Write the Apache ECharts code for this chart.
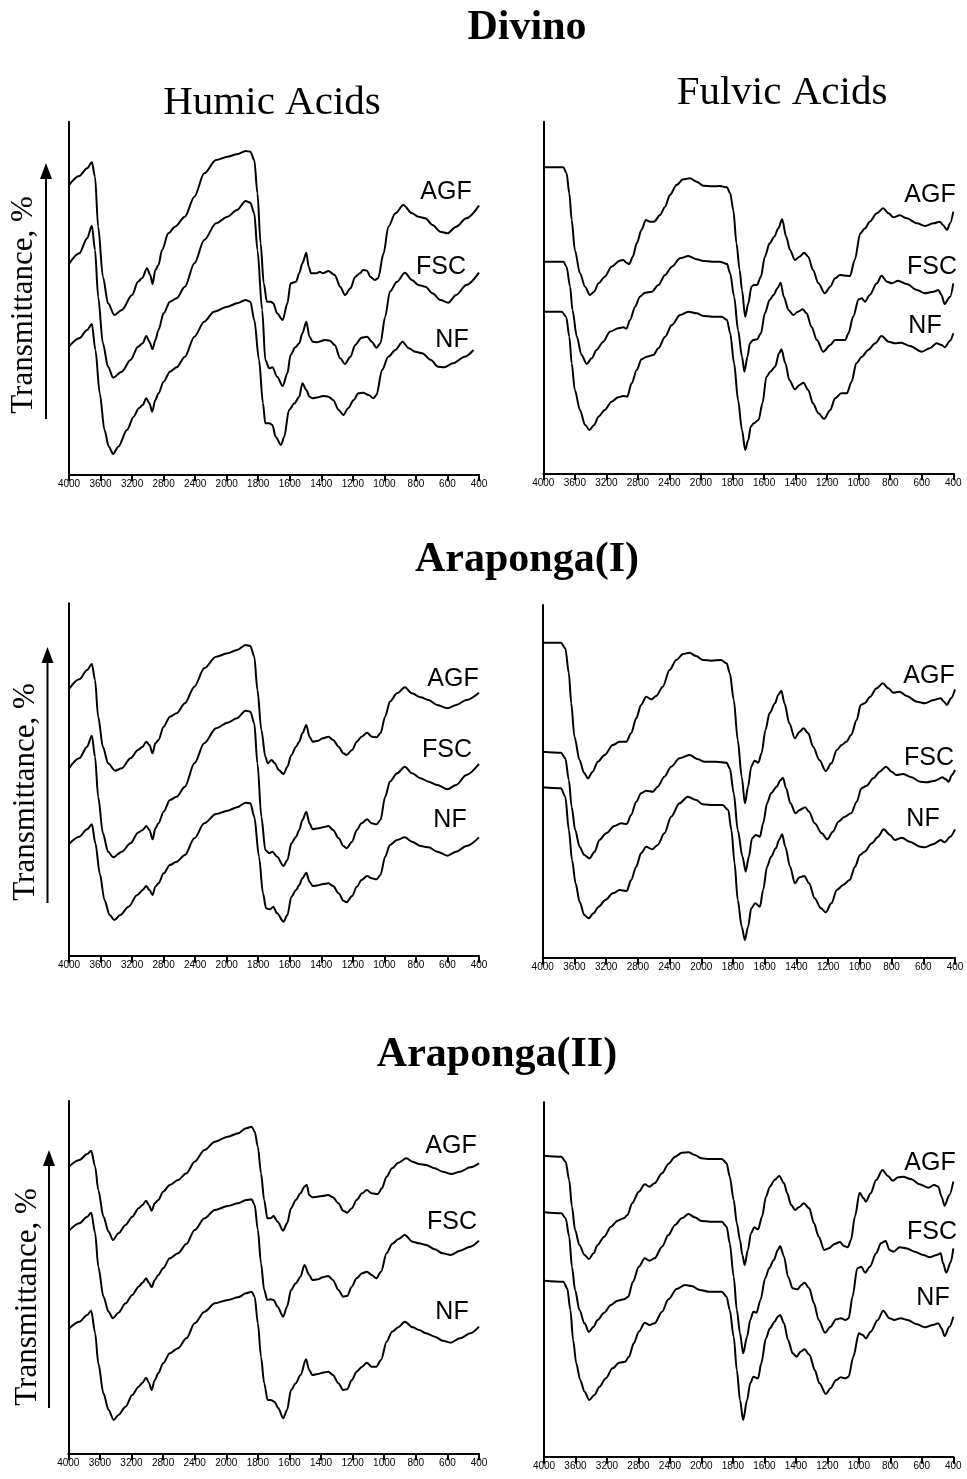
<!DOCTYPE html>
<html><head><meta charset="utf-8">
<script src="https://cdn.jsdelivr.net/npm/echarts@6/dist/echarts.min.js"></script>
<style>html,body{margin:0;padding:0;background:#fff}#c{width:967px;height:1479px}</style>
</head><body><div id="c"></div>
<script>
// ---- tick labels (wavenumber, cm-1) ----
const tickLabels = ['4000','3600','3200','2800','2400','2000','1800','1600','1400','1200','1000','800','600','400'];
const sampleNames = ['AGF','FSC','NF'];
const siteTitles = ['Divino','Araponga(I)','Araponga(II)'];
const columnTitles = ['Humic Acids','Fulvic Acids'];
const yTitle = 'Transmittance, %';

// ---- spectra: [wavenumber, transmittance (arbitrary units)] ----
const divinoHumicAGF = [[4000,86.8],[3870,89.5],[3770,91.8],[3710,93.6],[3670,89.3],[3630,74.3],[3570,59.3],[3505,51.3],[3425,47.8],[3330,49.3],[3200,53.8],[3125,57.8],[3075,58.8],[3010,61.8],[2970,59.8],[2940,57.1],[2905,61.3],[2865,62.8],[2820,67.3],[2740,72.3],[2655,74.3],[2530,77.3],[2410,83.3],[2285,90.3],[2135,94.3],[1995,95.3],[1935,96.0],[1880,97.0],[1850,96.8],[1825,94.3],[1805,84.3],[1785,69.3],[1765,57.3],[1745,51.8],[1720,51.8],[1705,51.3],[1680,48.3],[1645,46.3],[1615,51.3],[1595,57.3],[1560,57.8],[1540,60.3],[1520,63.3],[1495,66.5],[1480,62.3],[1465,60.3],[1430,60.3],[1410,60.8],[1390,60.3],[1355,61.0],[1315,59.8],[1280,56.3],[1250,53.8],[1215,55.8],[1185,59.3],[1155,60.3],[1135,61.3],[1110,61.1],[1090,59.3],[1060,58.3],[1040,58.8],[1005,66.3],[975,74.3],[930,78.3],[880,80.8],[825,78.3],[785,77.3],[740,76.8],[695,74.8],[645,72.8],[600,72.3],[545,74.3],[480,76.8],[400,80.6]];
const divinoHumicFSC = [[4000,63.1],[3870,66.3],[3770,70.8],[3710,74.6],[3670,67.3],[3630,53.3],[3570,39.3],[3505,32.3],[3440,29.0],[3330,30.8],[3220,34.3],[3125,38.3],[3065,39.3],[3020,41.5],[2980,39.8],[2940,37.5],[2905,40.3],[2865,43.3],[2800,48.3],[2720,51.8],[2635,52.8],[2530,56.3],[2410,63.3],[2285,70.3],[2135,75.3],[1995,77.3],[1935,79.3],[1880,82.0],[1850,81.5],[1825,78.3],[1805,67.3],[1775,49.3],[1755,34.3],[1730,31.8],[1710,32.1],[1680,29.3],[1645,26.5],[1615,30.3],[1595,35.8],[1565,38.1],[1540,39.3],[1520,42.3],[1495,45.8],[1475,41.3],[1455,39.8],[1425,39.6],[1400,40.0],[1380,40.3],[1345,40.1],[1315,38.8],[1280,34.8],[1250,33.1],[1215,35.3],[1185,38.8],[1145,41.0],[1110,41.3],[1080,39.8],[1050,38.0],[1025,39.3],[995,47.3],[965,54.8],[920,57.8],[870,60.5],[825,58.3],[785,56.8],[740,56.3],[695,54.3],[645,52.3],[595,51.5],[545,53.8],[480,56.8],[400,60.5]];
const divinoHumicNF = [[4000,38.3],[3870,40.8],[3770,43.3],[3710,45.1],[3665,37.3],[3610,24.3],[3550,13.3],[3495,8.3],[3440,6.1],[3375,8.3],[3265,13.3],[3180,17.3],[3115,19.8],[3065,20.8],[3020,22.8],[2980,21.3],[2945,18.8],[2905,22.3],[2865,24.3],[2800,27.8],[2720,30.8],[2635,32.1],[2530,35.3],[2410,41.3],[2285,45.8],[2160,48.8],[1995,50.3],[1935,51.3],[1880,52.3],[1850,51.8],[1825,46.3],[1795,34.3],[1770,21.3],[1755,15.3],[1730,15.3],[1710,14.8],[1690,11.3],[1655,8.8],[1635,11.3],[1605,19.3],[1570,21.3],[1540,23.3],[1520,27.3],[1495,25.3],[1475,23.3],[1455,22.8],[1420,23.1],[1390,23.5],[1355,23.3],[1325,22.3],[1290,19.3],[1260,17.8],[1230,19.8],[1195,22.3],[1165,24.3],[1135,24.5],[1100,23.8],[1070,22.8],[1050,23.8],[1015,31.3],[975,35.3],[930,37.3],[885,39.8],[845,37.8],[805,36.8],[760,36.3],[705,34.3],[660,32.3],[620,32.1],[565,33.3],[490,35.3],[435,37.3]];

const divinoFulvicAGF = [[4000,91.8],[3745,91.8],[3705,90.0],[3670,84.0],[3640,76.0],[3600,67.0],[3535,60.0],[3470,56.0],[3410,53.5],[3355,54.5],[3300,57.0],[3220,59.0],[3135,62.0],[3030,63.8],[2985,64.0],[2945,63.2],[2910,62.8],[2865,65.0],[2815,69.0],[2755,73.0],[2700,76.0],[2645,75.5],[2595,75.5],[2520,77.5],[2455,80.0],[2395,83.5],[2310,86.5],[2225,88.2],[2140,88.5],[2055,87.5],[1985,86.3],[1930,86.1],[1880,86.2],[1835,85.8],[1815,84.0],[1795,79.0],[1775,69.0],[1755,61.0],[1740,55.0],[1720,47.0],[1700,51.0],[1680,56.0],[1665,56.5],[1645,56.5],[1620,59.0],[1595,65.0],[1565,69.0],[1535,71.0],[1510,73.5],[1485,76.2],[1460,71.0],[1435,67.0],[1405,64.0],[1375,65.0],[1345,66.2],[1320,65.0],[1290,61.0],[1255,57.0],[1215,54.0],[1180,56.0],[1150,58.5],[1120,59.5],[1085,59.3],[1055,59.2],[1025,64.0],[990,72.0],[960,73.5],[930,75.5],[885,78.0],[845,79.5],[810,78.0],[780,76.8],[740,77.4],[695,76.5],[630,75.0],[580,74.2],[525,75.0],[485,75.5],[465,74.5],[440,73.0],[420,75.0],[400,78.5]];
const divinoFulvicFSC = [[4000,63.5],[3745,63.5],[3705,62.0],[3660,56.0],[3630,49.0],[3575,41.0],[3515,35.5],[3450,32.8],[3385,34.5],[3325,37.0],[3240,39.5],[3155,42.5],[3050,43.5],[2985,43.8],[2945,43.4],[2900,46.0],[2835,50.0],[2775,53.0],[2710,54.2],[2625,54.5],[2540,56.5],[2455,59.5],[2370,62.0],[2265,64.5],[2160,65.2],[2055,64.2],[1985,63.7],[1930,63.5],[1880,63.5],[1835,62.8],[1815,60.0],[1790,53.0],[1765,43.0],[1740,35.0],[1725,30.5],[1705,35.0],[1690,39.0],[1670,40.0],[1645,40.2],[1620,42.0],[1595,48.0],[1565,52.0],[1540,53.5],[1515,55.5],[1495,57.2],[1475,53.0],[1445,49.0],[1415,47.5],[1385,48.5],[1355,49.2],[1330,48.0],[1300,44.0],[1265,40.0],[1225,36.5],[1180,38.5],[1150,40.0],[1120,40.0],[1085,40.0],[1065,42.0],[1035,47.0],[1000,52.2],[980,52.5],[960,51.5],[930,53.5],[885,57.0],[855,59.3],[820,57.5],[790,57.0],[750,57.8],[695,56.8],[630,55.0],[580,54.0],[525,54.5],[495,55.0],[475,53.5],[455,50.8],[420,53.0],[400,57.0]];
const divinoFulvicNF = [[4000,48.5],[3765,48.5],[3710,47.0],[3670,41.0],[3640,33.0],[3600,25.0],[3535,19.0],[3470,14.5],[3415,13.0],[3355,14.5],[3300,17.0],[3220,19.0],[3135,21.5],[3050,22.8],[2985,23.2],[2935,23.0],[2880,27.0],[2815,31.0],[2755,34.2],[2690,35.0],[2605,35.5],[2540,37.5],[2455,41.0],[2370,44.5],[2265,47.5],[2160,48.5],[2055,48.0],[1985,47.2],[1930,47.0],[1870,47.0],[1835,46.0],[1815,42.0],[1790,33.0],[1765,22.0],[1740,13.0],[1720,7.0],[1700,10.0],[1685,14.0],[1665,15.0],[1635,16.0],[1610,21.0],[1585,29.0],[1560,30.5],[1530,32.0],[1505,36.0],[1490,37.2],[1465,33.0],[1440,28.0],[1405,25.2],[1375,26.5],[1350,27.2],[1320,25.0],[1290,21.0],[1255,18.0],[1220,16.3],[1180,19.0],[1150,22.5],[1110,24.0],[1075,24.0],[1045,27.5],[1015,33.0],[980,35.0],[940,37.0],[895,39.0],[855,41.2],[810,39.5],[770,39.0],[730,39.2],[675,38.2],[600,36.5],[550,37.5],[505,39.0],[475,38.5],[455,37.8],[420,39.8],[400,42.0]];

const arapI_HumicAGF = [[4000,80.0],[3870,82.9],[3770,85.7],[3710,87.5],[3670,82.7],[3630,71.7],[3570,62.7],[3505,57.7],[3415,55.5],[3330,56.2],[3220,59.2],[3125,61.7],[3065,62.7],[3020,64.2],[2980,63.2],[2940,60.7],[2905,63.7],[2865,64.7],[2800,68.7],[2720,71.7],[2635,72.7],[2530,75.7],[2410,80.7],[2285,86.2],[2135,89.7],[1995,90.7],[1935,91.7],[1880,93.2],[1850,92.9],[1825,89.7],[1805,79.7],[1780,67.7],[1755,59.7],[1740,57.7],[1715,58.7],[1695,57.7],[1670,55.7],[1640,54.5],[1615,56.7],[1590,60.2],[1560,62.7],[1540,64.2],[1520,66.7],[1495,69.2],[1475,65.7],[1455,64.2],[1420,64.5],[1390,65.2],[1355,65.7],[1325,64.7],[1290,62.7],[1260,60.7],[1240,60.2],[1205,61.7],[1175,64.2],[1145,65.7],[1110,66.9],[1080,65.7],[1050,65.5],[1025,66.7],[995,71.7],[965,76.2],[920,78.7],[870,80.5],[825,78.7],[770,77.5],[720,76.7],[665,75.2],[600,74.2],[545,75.2],[480,76.7],[400,78.9]];
const arapI_HumicFSC = [[4000,56.2],[3870,59.2],[3770,62.7],[3710,66.0],[3670,59.7],[3630,47.7],[3570,36.7],[3505,31.2],[3440,29.5],[3330,31.2],[3220,33.7],[3125,36.9],[3065,37.7],[3020,38.9],[2980,37.7],[2940,34.9],[2905,38.2],[2865,39.7],[2800,43.2],[2720,46.7],[2635,47.7],[2530,50.7],[2410,57.7],[2285,63.7],[2135,68.2],[1995,69.9],[1935,71.2],[1880,73.5],[1850,73.2],[1825,69.7],[1805,57.7],[1780,41.7],[1755,31.7],[1730,30.7],[1710,31.2],[1680,29.7],[1640,26.9],[1615,28.7],[1590,33.7],[1560,35.7],[1540,37.7],[1520,40.7],[1495,43.2],[1475,39.7],[1455,37.9],[1420,38.2],[1390,38.5],[1355,38.9],[1325,37.7],[1290,35.2],[1260,32.9],[1240,32.2],[1205,34.2],[1175,37.7],[1145,39.7],[1110,40.9],[1080,39.7],[1050,39.4],[1025,40.7],[995,47.7],[965,52.2],[920,54.7],[870,56.7],[825,54.7],[770,53.2],[720,52.2],[665,51.2],[600,49.9],[545,51.2],[480,54.2],[400,57.5]];
const arapI_HumicNF = [[4000,33.5],[3870,35.7],[3770,37.9],[3710,39.4],[3665,33.7],[3610,24.7],[3550,16.7],[3485,12.2],[3425,10.7],[3350,12.2],[3245,14.7],[3135,18.2],[3065,19.7],[3020,20.9],[2980,19.7],[2940,18.2],[2905,20.7],[2865,21.7],[2800,24.7],[2720,27.2],[2635,28.2],[2530,30.2],[2410,35.2],[2285,39.7],[2135,42.5],[1995,43.5],[1935,44.5],[1880,45.9],[1850,45.7],[1825,41.7],[1795,29.7],[1770,18.7],[1750,14.2],[1725,13.9],[1705,14.7],[1680,12.7],[1640,10.2],[1615,12.2],[1590,17.7],[1560,19.7],[1540,21.2],[1520,23.2],[1495,24.9],[1475,22.2],[1455,20.9],[1420,21.1],[1390,21.5],[1355,21.7],[1325,20.9],[1290,18.7],[1260,16.5],[1240,16.0],[1205,17.9],[1175,20.7],[1145,22.7],[1110,23.9],[1080,23.2],[1050,22.9],[1025,24.2],[995,29.7],[965,33.2],[920,34.7],[870,35.5],[825,34.2],[770,32.9],[720,32.5],[665,31.2],[600,30.0],[545,31.2],[480,32.9],[400,35.5]];

const arapI_FulvicAGF = [[4000,94.5],[3770,94.5],[3715,92.8],[3670,85.3],[3640,76.3],[3600,66.3],[3535,59.3],[3480,55.5],[3430,53.8],[3370,55.8],[3305,58.8],[3220,60.8],[3115,63.8],[3030,64.8],[2945,64.8],[2885,67.3],[2820,71.8],[2760,75.8],[2695,78.3],[2630,77.5],[2570,78.5],[2485,81.3],[2400,86.3],[2315,89.3],[2230,91.1],[2150,91.5],[2065,90.5],[1990,89.3],[1935,89.1],[1875,89.3],[1840,88.3],[1820,85.3],[1795,77.3],[1770,65.3],[1745,54.3],[1725,46.3],[1705,51.3],[1685,57.3],[1665,59.1],[1640,58.5],[1620,61.3],[1595,68.3],[1570,73.3],[1535,76.3],[1515,78.8],[1495,80.1],[1475,76.3],[1445,70.3],[1410,65.8],[1380,67.8],[1355,68.8],[1325,67.3],[1295,63.3],[1255,59.3],[1215,56.0],[1180,58.3],[1145,62.3],[1115,63.8],[1085,64.8],[1055,66.8],[1020,71.3],[995,75.8],[970,76.3],[935,78.3],[895,80.8],[855,82.3],[820,80.8],[790,79.5],[750,79.8],[705,78.5],[640,76.8],[590,76.3],[535,77.3],[490,77.8],[470,76.8],[452,75.8],[425,77.8],[400,80.5]];
const arapI_FulvicFSC = [[4000,61.8],[3770,61.5],[3715,59.8],[3670,53.3],[3635,45.3],[3590,38.3],[3535,33.3],[3475,30.8],[3410,29.8],[3345,31.8],[3285,35.3],[3200,37.3],[3095,39.5],[3010,40.3],[2940,40.1],[2885,42.8],[2820,46.8],[2760,49.3],[2695,50.1],[2610,49.8],[2550,51.3],[2465,54.3],[2380,57.3],[2275,59.8],[2150,60.8],[2040,59.5],[1980,58.8],[1905,58.8],[1840,58.5],[1820,56.8],[1795,49.3],[1770,38.3],[1740,30.3],[1720,25.8],[1700,30.3],[1680,35.8],[1655,36.8],[1630,36.3],[1610,40.3],[1585,46.3],[1560,49.3],[1525,51.3],[1500,53.3],[1485,54.0],[1465,50.8],[1438,46.3],[1405,43.3],[1380,44.3],[1345,45.1],[1320,43.8],[1285,40.3],[1240,37.3],[1205,35.5],[1170,37.8],[1135,40.8],[1095,42.3],[1055,43.3],[1020,46.8],[990,50.8],[960,51.5],[915,53.8],[875,55.8],[835,57.3],[800,55.8],[770,54.8],[725,55.1],[675,54.1],[620,52.8],[580,52.6],[525,53.1],[480,54.1],[457,53.5],[440,52.8],[420,54.8],[400,56.3]];
const arapI_FulvicNF = [[4000,51.1],[3770,50.8],[3715,48.3],[3670,38.3],[3630,29.3],[3585,22.3],[3535,16.8],[3475,12.8],[3420,11.8],[3360,13.3],[3295,15.3],[3210,17.3],[3115,19.3],[3030,20.3],[2940,20.0],[2885,23.3],[2820,27.3],[2760,31.3],[2695,33.3],[2620,32.5],[2550,33.8],[2465,37.3],[2380,42.3],[2275,46.3],[2170,48.3],[2065,47.3],[1990,46.0],[1925,45.8],[1865,45.8],[1830,44.3],[1810,38.3],[1790,28.3],[1770,17.3],[1745,9.3],[1725,5.3],[1705,9.3],[1685,14.8],[1660,16.3],[1630,15.3],[1610,20.3],[1585,27.3],[1560,30.3],[1530,32.8],[1510,35.3],[1490,37.0],[1470,33.3],[1440,27.3],[1410,22.3],[1380,24.1],[1350,24.5],[1320,22.3],[1285,17.8],[1245,14.8],[1215,13.6],[1180,16.3],[1145,20.3],[1105,21.8],[1065,23.3],[1030,27.3],[1000,30.8],[970,31.8],[925,34.3],[885,36.3],[850,38.5],[810,36.8],[780,35.3],[735,36.0],[685,34.8],[620,33.3],[590,33.1],[535,34.1],[490,35.3],[465,34.6],[430,36.3],[400,38.5]];

const arapII_HumicAGF = [[4000,85.8],[3860,88.0],[3760,89.8],[3710,90.8],[3660,86.0],[3620,79.0],[3555,71.0],[3490,66.5],[3435,64.0],[3365,66.0],[3275,68.5],[3190,71.0],[3110,73.5],[3060,74.5],[3015,75.8],[2980,74.5],[2945,72.8],[2905,75.0],[2860,76.0],[2800,78.5],[2715,80.5],[2610,82.0],[2505,84.0],[2400,87.5],[2275,91.0],[2145,93.5],[1990,95.0],[1925,96.0],[1875,97.5],[1840,98.0],[1820,96.5],[1800,92.0],[1780,84.0],[1760,76.0],[1740,70.5],[1720,70.5],[1700,71.2],[1675,69.5],[1640,66.8],[1615,69.0],[1590,73.5],[1560,76.0],[1530,78.0],[1505,80.0],[1490,80.5],[1475,77.5],[1455,76.8],[1420,77.0],[1390,77.2],[1355,77.5],[1325,76.8],[1290,75.0],[1260,72.8],[1235,72.2],[1205,73.5],[1175,76.0],[1140,78.0],[1110,79.0],[1080,78.0],[1040,77.8],[1015,79.5],[985,83.0],[950,85.5],[910,87.2],[860,88.5],[820,87.5],[780,86.8],[735,86.5],[680,85.5],[630,84.5],[575,83.8],[520,84.5],[455,85.8],[400,87.0]];
const arapII_HumicFSC = [[4000,66.5],[3860,69.0],[3760,71.0],[3710,72.2],[3660,66.0],[3620,56.0],[3555,47.0],[3490,42.5],[3435,40.5],[3365,42.2],[3275,45.0],[3190,47.5],[3110,50.0],[3060,51.2],[3015,52.5],[2980,51.2],[2945,49.8],[2905,52.0],[2860,53.5],[2800,55.5],[2715,58.5],[2610,60.0],[2505,62.8],[2400,67.0],[2275,70.5],[2145,73.0],[1990,74.2],[1925,75.0],[1875,76.0],[1840,76.2],[1820,74.5],[1800,67.0],[1780,57.0],[1760,49.0],[1740,46.0],[1720,46.2],[1700,46.0],[1675,44.0],[1640,41.0],[1615,44.0],[1590,49.0],[1560,51.0],[1530,53.0],[1505,56.5],[1475,53.5],[1455,52.0],[1420,52.2],[1390,52.8],[1355,53.2],[1325,52.0],[1290,49.0],[1260,47.0],[1235,47.2],[1205,50.0],[1175,52.5],[1140,54.0],[1110,54.5],[1080,53.5],[1050,52.5],[1020,54.5],[985,60.0],[950,62.8],[910,64.3],[870,65.5],[820,63.5],[780,63.0],[735,62.5],[680,61.2],[630,60.0],[580,59.5],[520,60.8],[455,62.0],[400,63.8]];
const arapII_HumicNF = [[4000,37.2],[3860,39.5],[3760,41.5],[3710,42.8],[3660,36.0],[3620,27.0],[3555,18.0],[3490,13.0],[3425,10.0],[3365,11.5],[3275,14.0],[3190,17.5],[3110,20.0],[3060,21.2],[3015,22.7],[2980,21.2],[2945,19.0],[2905,22.0],[2860,24.0],[2800,27.0],[2715,30.0],[2610,31.5],[2505,34.5],[2400,39.0],[2275,42.5],[2145,45.0],[1990,46.0],[1925,46.8],[1875,48.0],[1840,48.5],[1820,47.0],[1800,39.0],[1780,29.0],[1760,21.0],[1738,16.0],[1718,16.0],[1695,15.5],[1670,13.5],[1640,10.5],[1615,13.0],[1590,19.0],[1560,21.0],[1530,23.5],[1495,28.2],[1475,25.0],[1455,23.5],[1420,23.8],[1390,24.2],[1355,24.5],[1325,23.5],[1290,21.0],[1260,19.0],[1235,19.2],[1205,22.0],[1175,24.5],[1140,26.0],[1110,27.2],[1080,26.0],[1050,26.0],[1020,28.0],[985,33.5],[950,36.5],[910,37.8],[870,39.5],[820,37.8],[780,37.0],[735,36.0],[680,35.0],[630,33.8],[580,33.2],[520,34.5],[455,36.0],[400,38.0]];

const arapII_FulvicAGF = [[4000,90.3],[3780,90.0],[3725,88.5],[3680,83.0],[3645,75.0],[3605,68.0],[3550,63.5],[3485,60.5],[3430,59.3],[3370,61.0],[3320,63.5],[3235,66.0],[3150,69.0],[3065,70.8],[2985,71.5],[2940,72.5],[2880,76.0],[2795,79.5],[2720,81.7],[2660,81.0],[2595,82.0],[2500,85.0],[2420,87.8],[2335,90.0],[2250,91.2],[2165,91.3],[2085,90.5],[2000,89.5],[1945,89.3],[1870,89.3],[1840,88.0],[1820,84.0],[1795,77.0],[1775,70.0],[1755,65.0],[1740,60.5],[1725,57.5],[1705,62.0],[1685,67.0],[1665,68.8],[1640,68.2],[1615,72.0],[1590,78.0],[1565,81.0],[1535,83.0],[1505,84.2],[1475,82.0],[1455,79.0],[1430,75.5],[1405,74.0],[1375,75.0],[1350,76.0],[1315,74.5],[1285,70.0],[1255,66.0],[1220,62.0],[1190,62.5],[1155,63.8],[1120,64.4],[1095,63.2],[1070,62.8],[1050,65.0],[1025,72.0],[995,79.2],[970,77.5],[955,76.5],[925,79.0],[890,83.0],[850,86.0],[815,84.2],[785,82.8],[750,83.8],[720,84.0],[665,83.2],[615,81.7],[560,80.7],[520,81.5],[495,81.0],[475,78.0],[455,75.3],[425,78.5],[400,82.5]];
const arapII_FulvicFSC = [[4000,73.3],[3780,73.0],[3725,71.5],[3680,66.0],[3645,57.0],[3605,50.0],[3550,44.0],[3485,40.0],[3430,37.4],[3370,39.0],[3320,41.0],[3235,43.2],[3150,45.5],[3065,46.8],[2985,47.2],[2930,48.0],[2870,52.5],[2795,57.0],[2720,59.5],[2660,58.8],[2595,59.5],[2500,63.0],[2420,66.5],[2335,69.5],[2250,71.5],[2165,72.8],[2085,71.8],[2000,70.7],[1945,70.5],[1870,70.5],[1840,69.0],[1820,64.0],[1795,54.0],[1775,44.0],[1755,37.0],[1735,31.0],[1710,36.0],[1690,41.0],[1670,43.5],[1650,43.2],[1625,47.0],[1595,53.5],[1570,56.5],[1540,59.0],[1515,62.0],[1500,63.2],[1475,60.0],[1450,54.0],[1420,50.5],[1390,50.2],[1365,51.5],[1345,52.2],[1315,50.5],[1285,46.0],[1255,41.0],[1215,37.2],[1180,39.0],[1145,41.2],[1115,41.5],[1085,41.0],[1065,41.5],[1040,48.0],[1010,56.5],[985,57.0],[960,55.2],[930,57.0],[890,61.0],[860,64.0],[830,64.7],[805,62.0],[780,61.5],[740,62.8],[700,62.5],[645,61.5],[590,60.5],[550,59.8],[505,60.5],[480,61.0],[465,58.0],[445,55.2],[415,58.5],[400,62.5]];
const arapII_FulvicNF = [[4000,52.8],[3755,52.5],[3705,50.5],[3665,44.0],[3630,35.0],[3590,28.0],[3540,23.0],[3485,19.5],[3425,17.0],[3360,18.5],[3295,21.0],[3215,23.5],[3130,26.5],[3045,28.2],[2970,28.5],[2920,30.0],[2860,34.0],[2795,37.5],[2720,40.2],[2660,39.5],[2595,40.0],[2500,43.5],[2420,47.2],[2315,50.3],[2210,51.5],[2125,51.2],[2020,50.0],[1955,49.5],[1870,49.5],[1840,48.0],[1820,44.0],[1795,36.0],[1775,26.0],[1755,17.0],[1735,11.0],[1710,17.0],[1690,22.0],[1670,24.0],[1640,23.5],[1620,28.0],[1590,35.5],[1565,38.5],[1535,40.5],[1515,42.0],[1500,42.5],[1475,40.0],[1450,35.0],[1420,31.0],[1395,30.0],[1370,31.5],[1345,32.2],[1313,30.5],[1280,26.0],[1250,22.0],[1210,18.8],[1180,20.5],[1145,23.0],[1115,23.8],[1085,23.5],[1065,24.0],[1035,30.0],[1000,37.0],[975,36.5],[955,35.5],[925,37.5],[880,41.0],[845,43.8],[805,41.5],[775,41.0],[735,41.5],[690,41.0],[635,39.8],[580,38.8],[530,39.5],[495,40.0],[475,38.5],[455,36.2],[425,39.0],[400,42.0]];

// ---- the axis is compressed 2x above 2000 cm-1 (each tick is one step) ----
function toAxis(wn) { return wn >= 2000 ? (4000 - wn) / 400 : 5 + (2000 - wn) / 200; }

const panels = [
  { grid: {left: 69, top: 121.7, width: 410, height: 352.6}, ymax: 105.8, data: [divinoHumicAGF, divinoHumicFSC, divinoHumicNF], lab: [[446,192],[441,267],[452,340]] },
  { grid: {left: 543.3, top: 121.7, width: 410, height: 351.6}, ymax: 105.5, data: [divinoFulvicAGF, divinoFulvicFSC, divinoFulvicNF], lab: [[930,195],[932,267],[925,326]] },
  { grid: {left: 69, top: 603.3, width: 410, height: 352.4}, ymax: 105.7, data: [arapI_HumicAGF, arapI_HumicFSC, arapI_HumicNF], lab: [[453,679],[447,750],[450,820]] },
  { grid: {left: 542.7, top: 605, width: 412.3, height: 352.7}, ymax: 105.8, data: [arapI_FulvicAGF, arapI_FulvicFSC, arapI_FulvicNF], lab: [[929,676],[929,758],[923,819]] },
  { grid: {left: 68.3, top: 1101, width: 410.7, height: 352.3}, ymax: 105.7, data: [arapII_HumicAGF, arapII_HumicFSC, arapII_HumicNF], lab: [[451,1146],[452,1222],[452,1312]] },
  { grid: {left: 544, top: 1102.3, width: 409.3, height: 354.4}, ymax: 106.3, data: [arapII_FulvicAGF, arapII_FulvicFSC, arapII_FulvicNF], lab: [[930,1163],[932,1232],[933,1298]] }
];

const sansFont = '"Liberation Sans", Arial, sans-serif';
const serifFont = '"Liberation Serif", "Times New Roman", serif';

const grids = [], xAxes = [], yAxes = [], series = [], graphics = [];
panels.forEach((p, i) => {
  grids.push(Object.assign({containLabel: false}, p.grid));
  xAxes.push({
    gridIndex: i, type: 'value', min: 0, max: 13, interval: 1,
    axisLine: {show: true, onZero: false, lineStyle: {color: '#000', width: 2}},
    axisTick: {show: true, length: 7, lineStyle: {color: '#000', width: 2}},
    axisLabel: {show: true, color: '#000', fontSize: 10, fontFamily: sansFont, margin: 5,
      formatter: v => tickLabels[Math.round(v)] || ''},
    splitLine: {show: false}
  });
  yAxes.push({
    gridIndex: i, type: 'value', min: 0, max: p.ymax,
    axisLine: {show: true, onZero: false, lineStyle: {color: '#000', width: 2}},
    axisTick: {show: false}, axisLabel: {show: false}, splitLine: {show: false}
  });
  p.data.forEach((arr, k) => {
    series.push({
      type: 'line', xAxisIndex: i, yAxisIndex: i, name: sampleNames[k],
      data: arr.map(d => [toAxis(d[0]), d[1]]),
      smooth: 0.3, smoothMonotone: 'x', showSymbol: false, symbol: 'none', silent: true,
      lineStyle: {color: '#000', width: 2}
    });
    graphics.push({type: 'text', x: p.lab[k][0], y: p.lab[k][1], silent: true,
      style: {text: sampleNames[k], font: '25px ' + sansFont, fill: '#000',
        textAlign: 'center', textVerticalAlign: 'middle', align: 'center', verticalAlign: 'middle'}});
  });
});

// titles
const titlePos = [[527, 28], [527, 560], [497, 1055]];
siteTitles.forEach((t, i) => graphics.push({type: 'text', x: titlePos[i][0], y: titlePos[i][1], silent: true,
  style: {text: t, font: 'bold 42px ' + serifFont, fill: '#000', textAlign: 'center', textVerticalAlign: 'middle', align: 'center', verticalAlign: 'middle'}}));
const colPos = [[272, 103], [782, 93]];
columnTitles.forEach((t, i) => graphics.push({type: 'text', x: colPos[i][0], y: colPos[i][1], silent: true,
  style: {text: t, font: '41px ' + serifFont, fill: '#000', textAlign: 'center', textVerticalAlign: 'middle', align: 'center', verticalAlign: 'middle'}}));

// y titles with arrows
const yTitlePos = [[24, 305], [26, 792], [28, 1297]];
const arrows = [[46, 163, 419], [47.5, 647, 903], [49, 1150, 1408]];
yTitlePos.forEach((p, i) => {
  graphics.push({type: 'text', x: p[0], y: p[1], rotation: Math.PI / 2, silent: true,
    style: {text: yTitle, font: '31px ' + serifFont, fill: '#000', textAlign: 'center', textVerticalAlign: 'middle', align: 'center', verticalAlign: 'middle'}});
  const a = arrows[i];
  graphics.push({type: 'line', silent: true, shape: {x1: a[0], y1: a[2], x2: a[0], y2: a[1] + 14}, style: {stroke: '#000', lineWidth: 2}});
  graphics.push({type: 'polygon', silent: true, shape: {points: [[a[0], a[1]], [a[0] - 6, a[1] + 16], [a[0] + 6, a[1] + 16]]}, style: {fill: '#000'}});
});

const chart = echarts.init(document.getElementById('c'), null, {renderer: 'canvas'});
chart.setOption({
  animation: false, backgroundColor: '#fff',
  grid: grids, xAxis: xAxes, yAxis: yAxes, series: series, graphic: graphics
});
</script>
</body></html>
